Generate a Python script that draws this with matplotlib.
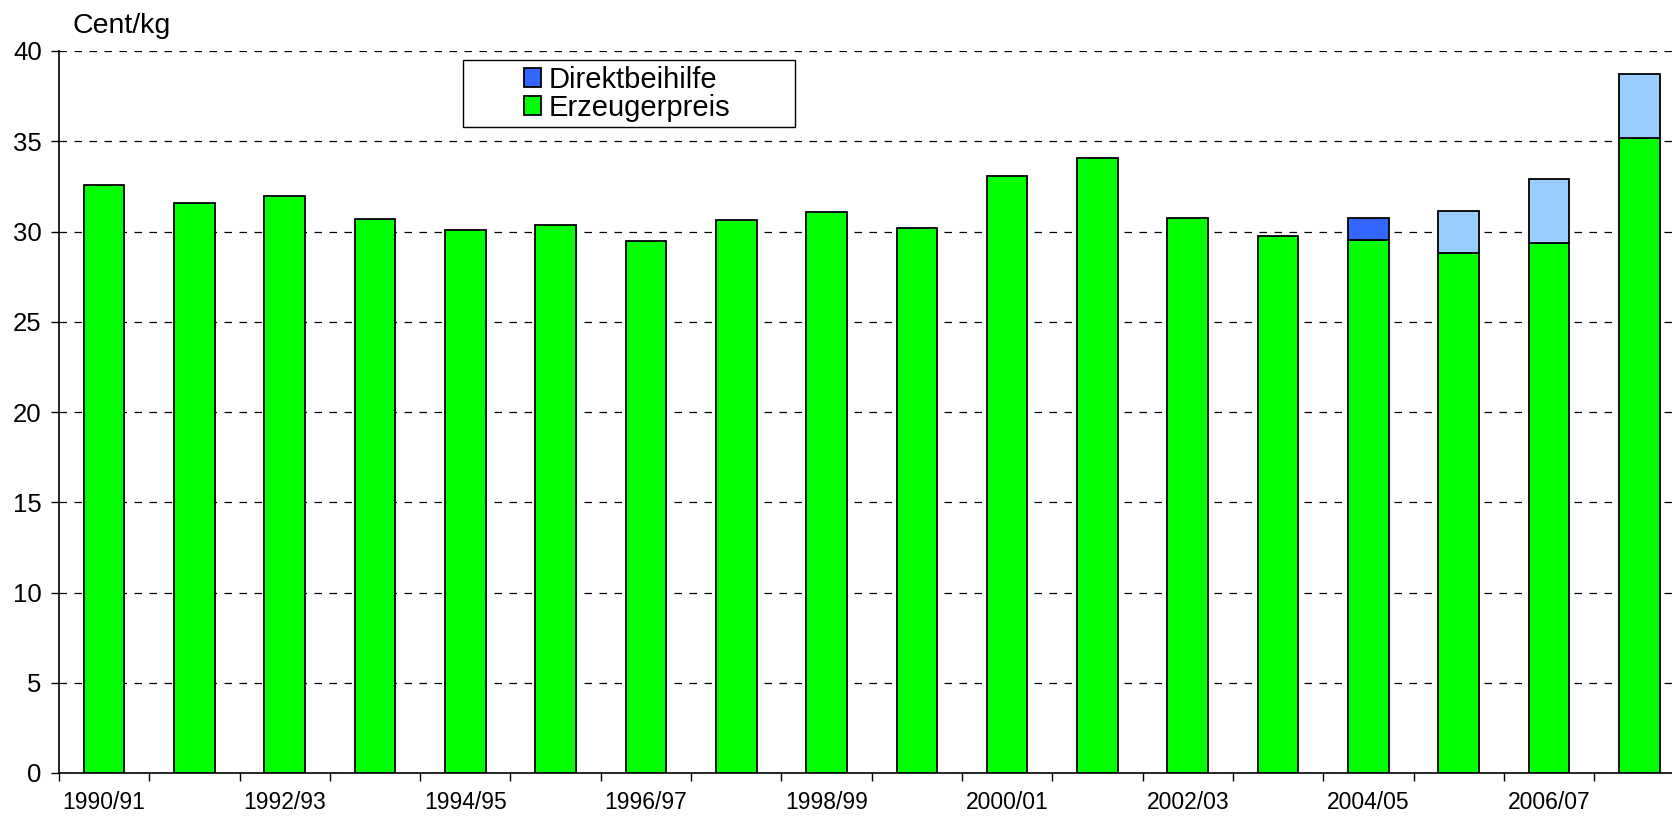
import numpy as np
import matplotlib.pyplot as plt
from matplotlib.patches import Patch, Rectangle

plt.rcParams['font.family'] = ['Liberation Sans', 'DejaVu Sans']

# Wirtschaftsjahre
years = ['1990/91', '1991/92', '1992/93', '1993/94', '1994/95', '1995/96',
         '1996/97', '1997/98', '1998/99', '1999/00', '2000/01', '2001/02',
         '2002/03', '2003/04', '2004/05', '2005/06', '2006/07', '2007/08']

# Cent/kg
erzeugerpreis = [32.6, 31.6, 31.95, 30.7, 30.1, 30.35, 29.5, 30.65, 31.1,
                 30.2, 33.05, 34.05, 30.75, 29.75, 29.55, 28.8, 29.35, 35.2]
direktbeihilfe = [0, 0, 0, 0, 0, 0, 0, 0, 0, 0, 0, 0, 0, 0, 1.2, 0, 0, 0]
zuschlag = [0, 0, 0, 0, 0, 0, 0, 0, 0, 0, 0, 0, 0, 0, 0, 2.35, 3.55, 3.5]

W, H = 1672, 819
fig = plt.figure(figsize=(W / 100, H / 100), dpi=100)
ax = fig.add_axes([59 / W, 46 / H, (W - 59) / W, 722 / H])

x = np.arange(len(years))
bw = 0.45
ax.bar(x, erzeugerpreis, bw, color='#00ff00', edgecolor='black', linewidth=1.3, zorder=3)
ax.bar(x, direktbeihilfe, bw, bottom=erzeugerpreis, color='#3366ff',
       edgecolor='black', linewidth=1.3, zorder=3)
ax.bar(x, zuschlag, bw, bottom=np.add(erzeugerpreis, direktbeihilfe), color='#99ccff',
       edgecolor='black', linewidth=1.3, zorder=3)
# hide the empty segments (they would still draw an outline)
for p in ax.patches:
    if p.get_height() == 0:
        p.set_visible(False)

ax.set_yticks(np.arange(0, 41, 5))
for y in np.arange(5, 41, 5):
    ax.axhline(y, color='black', lw=0.9, ls=(0, (6, 6)), zorder=1)

ax.set_xticks(x[::2])
ax.set_xticklabels(years[::2])
ax.set_xticks(np.arange(-0.5, len(years), 1), minor=True)
ax.tick_params(axis='x', which='major', length=0, pad=13, labelsize=16.5)
ax.tick_params(axis='x', which='minor', length=6, width=1, direction='out')
ax.tick_params(axis='y', length=5.5, width=1, pad=7, labelsize=18.5)

# limits last, set_xticks would widen them
ax.set_ylim(0, 40)
ax.set_xlim(-0.5, -0.5 + (W - 59) / 90.3)

for s in ['top', 'right']:
    ax.spines[s].set_visible(False)
for s in ['left', 'bottom']:
    ax.spines[s].set_linewidth(1.2)

fig.text(73 / W, 1 - 33 / H, 'Cent/kg', fontsize=20.5, ha='left', va='baseline')

# legend box
fig.patches.append(Rectangle((463 / W, 1 - 127 / H), 332 / W, 67 / H,
                             transform=fig.transFigure, facecolor='white',
                             edgecolor='black', linewidth=1.0, zorder=5))
handles = [Patch(facecolor='#3366ff', edgecolor='black', linewidth=1.3, label='Direktbeihilfe'),
           Patch(facecolor='#00ff00', edgecolor='black', linewidth=1.3, label='Erzeugerpreis')]
leg = fig.legend(handles=handles, loc='center', bbox_to_anchor=(627 / W, 1 - 94 / H),
                 frameon=False, fontsize=21, handlelength=0.6, handleheight=0.6,
                 handletextpad=0.25, labelspacing=0.0, borderpad=0)
leg.set_zorder(6)

fig.savefig('out.png', dpi=100, facecolor='white')
